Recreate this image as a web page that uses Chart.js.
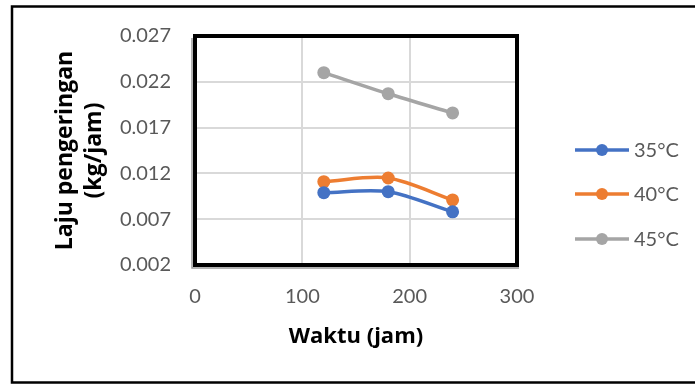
<!DOCTYPE html>
<html>
<head>
<meta charset="utf-8">
<script src="https://cdn.jsdelivr.net/npm/chart.js@4"></script>
<style>
  html, body { margin: 0; padding: 0; background: #fff; }
  #wrap { width: 695px; height: 385px; }
</style>
</head>
<body>
<div id="wrap"><canvas id="dryChart" width="695" height="385"></canvas></div>
<script>
// waktu (jam)
const hours = [120, 180, 240];
// laju pengeringan (kg/jam)
const rate35 = [0.0099, 0.0100, 0.0078];
const rate40 = [0.0111, 0.0115, 0.0091];
const rate45 = [0.0230, 0.0207, 0.0186];
const seriesLabels = ["35°C", "40°C", "45°C"];
const xTicks = [0, 100, 200, 300];
const yTicks = [0.002, 0.007, 0.012, 0.017, 0.022, 0.027];

const colors = ["#4472C4", "#ED7D31", "#A5A5A5"];
const FONT = "Lato, 'Open Sans', sans-serif";
const TITLE_FONT = "'Open Sans', Lato, sans-serif";

const toPoints = vals => hours.map((h, i) => ({ x: h, y: vals[i] }));

const makeSet = (label, vals, color) => ({
  label,
  data: toPoints(vals),
  showLine: true,
  borderColor: color,
  backgroundColor: color,
  borderWidth: 3.5,
  pointRadius: 6.5,
  pointHoverRadius: 6.5,
  pointBorderWidth: 0,
  tension: 0.3,
});

// plot frame, outer border and legend
const framePlugin = {
  id: "frame",
  afterDraw(chart) {
    const { ctx, chartArea } = chart;
    const { left, right, top, bottom } = chartArea;
    ctx.save();
    // faint shadow line on left and bottom
    ctx.strokeStyle = "#9A9A9A";
    ctx.lineWidth = 1.5;
    ctx.beginPath();
    ctx.moveTo(left - 3, top + 2);
    ctx.lineTo(left - 3, bottom + 3);
    ctx.lineTo(right + 2, bottom + 3);
    ctx.stroke();

    ctx.strokeStyle = "#000";
    ctx.lineWidth = 4;
    ctx.strokeRect(left, top, right - left, bottom - top);
    ctx.lineWidth = 2.5;
    ctx.strokeRect(12, 6.5, 700, 376);

    // legend
    const rows = [150, 194, 239];
    chart.data.datasets.forEach((ds, i) => {
      const y = rows[i];
      ctx.strokeStyle = ds.borderColor;
      ctx.lineWidth = 3.5;
      ctx.beginPath();
      ctx.moveTo(575, y);
      ctx.lineTo(629, y);
      ctx.stroke();
      ctx.fillStyle = ds.backgroundColor;
      ctx.beginPath();
      ctx.arc(602, y, 6, 0, Math.PI * 2);
      ctx.fill();
      ctx.fillStyle = "#595959";
      ctx.font = "20px " + FONT;
      ctx.textBaseline = "middle";
      ctx.textAlign = "left";
      ctx.fillText(ds.label, 634, y + 1);
    });
    ctx.restore();
  },
};

new Chart(document.getElementById("dryChart"), {
  type: "scatter",
  data: {
    datasets: [
      makeSet(seriesLabels[0], rate35, colors[0]),
      makeSet(seriesLabels[1], rate40, colors[1]),
      makeSet(seriesLabels[2], rate45, colors[2]),
    ],
  },
  options: {
    responsive: false,
    animation: false,
    layout: { padding: { top: 36, right: 178, bottom: 0, left: 0 } },
    plugins: {
      legend: { display: false },
      tooltip: { enabled: false },
    },
    scales: {
      x: {
        type: "linear",
        min: 0,
        max: 300,
        afterFit: scale => { scale.height = 120; },
        afterBuildTicks: scale => { scale.ticks = xTicks.map(v => ({ value: v })); },
        grid: { color: "#D9D9D9", lineWidth: 2, drawTicks: false },
        border: { display: false },
        ticks: { color: "#595959", font: { family: FONT, size: 20 }, padding: 20, maxRotation: 0 },
        title: {
          display: true,
          text: "Waktu (jam)",
          color: "#000",
          font: { family: TITLE_FONT, size: 22, weight: "bold" },
          padding: { top: 0, bottom: 35 },
        },
      },
      y: {
        min: 0.002,
        max: 0.027,
        afterFit: scale => { scale.width = 195; },
        afterBuildTicks: scale => { scale.ticks = yTicks.map(v => ({ value: v })); },
        grid: { color: "#D9D9D9", lineWidth: 2, drawTicks: false },
        border: { display: false },
        ticks: {
          color: "#595959",
          font: { family: FONT, size: 20 },
          padding: 24,
          callback: v => v.toFixed(3),
        },
        title: {
          display: true,
          text: ["Laju pengeringan", "(kg/jam)"],
          color: "#000",
          font: { family: TITLE_FONT, size: 23, weight: "bold", lineHeight: 1.27 },
          padding: { top: 51, bottom: 0 },
        },
      },
    },
  },
  plugins: [framePlugin],
});
</script>
</body>
</html>
